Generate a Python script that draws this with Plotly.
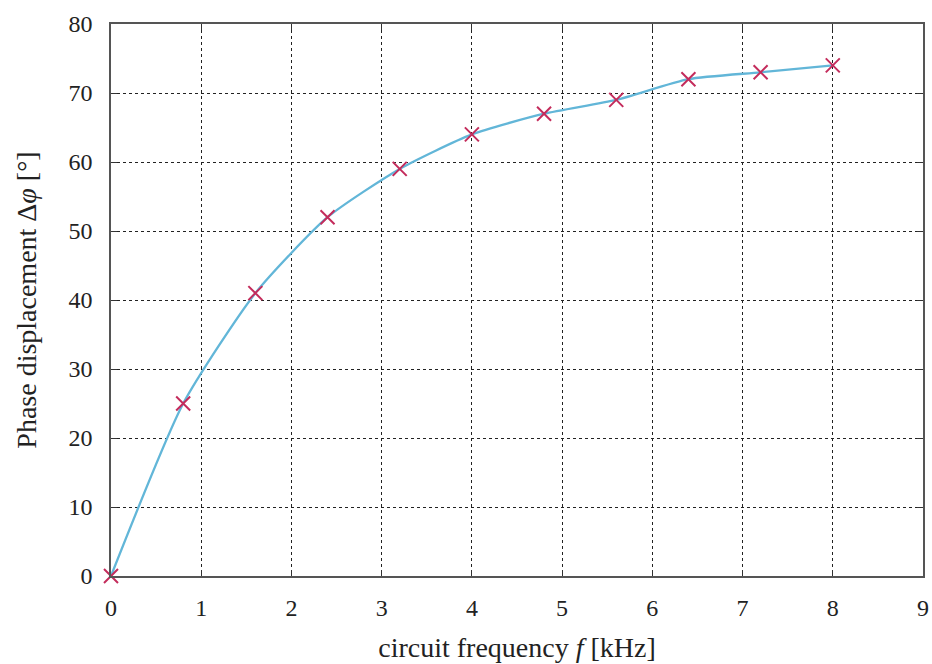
import plotly.graph_objects as go

freq_khz = [0, 0.8, 1.6, 2.4, 3.2, 4.0, 4.8, 5.6, 6.4, 7.2, 8.0]
phase_deg = [0, 25, 41, 52, 59, 64, 67, 69, 72, 73, 74]
x_ticks = [0, 1, 2, 3, 4, 5, 6, 7, 8, 9]
y_ticks = [0, 10, 20, 30, 40, 50, 60, 70, 80]

font_family = "Liberation Serif, DejaVu Serif, serif"

fig = go.Figure()
fig.add_trace(go.Scatter(
    x=freq_khz, y=phase_deg, mode="lines",
    line=dict(color="#62b6d8", width=2.3, shape="spline", smoothing=0.6),
    hoverinfo="skip", showlegend=False, cliponaxis=False,
))
fig.add_trace(go.Scatter(
    x=freq_khz, y=phase_deg, mode="markers",
    marker=dict(symbol="x-thin", size=14, line=dict(color="#c42c5c", width=2)),
    showlegend=False, cliponaxis=False,
))

axis_common = dict(
    showline=True, linecolor="#555555", linewidth=1.5, mirror="ticks",
    ticks="inside", ticklen=6, tickcolor="#333333", tickwidth=1,
    showgrid=True, gridcolor="#222222", gridwidth=1, griddash="dot",
    zeroline=False, automargin=False,
    tickfont=dict(family=font_family, size=24, color="#222222"),
)

fig.update_layout(
    width=932, height=664,
    margin=dict(l=111, r=9, t=24, b=88),
    paper_bgcolor="white", plot_bgcolor="white",
    font=dict(family=font_family, color="#222222"),
    xaxis=dict(range=[0, 9], tickvals=x_ticks, ticklabelstandoff=9,
               title=dict(text="circuit frequency <i>f</i> [kHz]",
                          font=dict(family=font_family, size=28), standoff=18),
               **axis_common),
    yaxis=dict(range=[0, 80], tickvals=y_ticks, ticklabelstandoff=12,
               title=dict(text="Phase displacement Δ<i>φ</i> [°]",
                          font=dict(family=font_family, size=28), standoff=24),
               **axis_common),
)

fig.write_html(
    "out.html",
    config={"displayModeBar": False},
    post_script="document.body.style.margin='0';document.body.style.overflow='hidden';",
)
